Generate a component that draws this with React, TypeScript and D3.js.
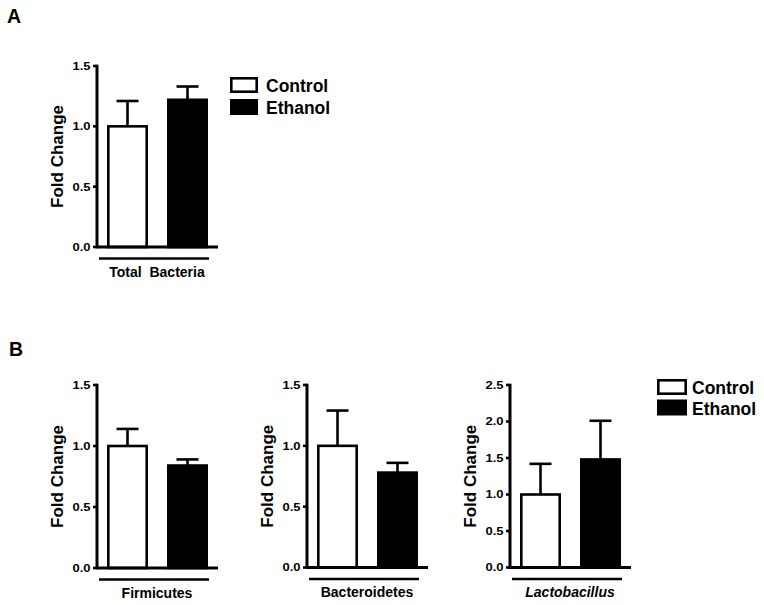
import React from "react";
import * as d3 from "d3";

// ---- data ----
const panelLabels = ["Total  Bacteria", "Firmicutes", "Bacteroidetes", "Lactobacillus"];
const labelItalic = [false, false, false, true];
const groups = ["Control", "Ethanol"];
const controlMean = [1.0, 1.0, 1.0, 1.0];
const controlErr = [0.21, 0.14, 0.29, 0.42];
const ethanolMean = [1.22, 0.84, 0.78, 1.48];
const ethanolErr = [0.11, 0.05, 0.08, 0.53];
const yMaxes = [1.5, 1.5, 1.5, 2.5];
const yTickStep = 0.5;
const yTitle = "Fold Change";
const panelLetters = ["A", "B"];

// ---- layout (not data) ----
const FONT = "'Liberation Sans', Arial, Helvetica, sans-serif";
const axisX = [97, 97, 307, 510];
const axisTop = [66, 385, 385, 385];
const axisBottom = [247, 568, 567.5, 567.5];
const axisLen = 121;
const LW = 2.6;

function Panel({ i }: { i: number }) {
  const x0 = axisX[i];
  const y = d3.scaleLinear().domain([0, yMaxes[i]]).range([axisBottom[i], axisTop[i]]);
  const xb = d3
    .scaleBand<string>()
    .domain(groups)
    .range([x0, x0 + axisLen])
    .paddingInner(0.317)
    .paddingOuter(0.167);
  const ticks = d3.range(0, yMaxes[i] + 1e-9, yTickStep);
  const means = [controlMean[i], ethanolMean[i]];
  const errs = [controlErr[i], ethanolErr[i]];
  const midY = (axisTop[i] + axisBottom[i]) / 2;
  const bw = xb.bandwidth();
  return (
    <g>
      {groups.map((g, k) => {
        const cx = (xb(g) as number) + bw / 2;
        return (
          <g key={"e" + g} stroke="#000" strokeWidth={LW}>
            <line x1={cx} x2={cx} y1={y(means[k])} y2={y(means[k] + errs[k])} />
            <line x1={cx - 11} x2={cx + 11} y1={y(means[k] + errs[k])} y2={y(means[k] + errs[k])} />
          </g>
        );
      })}
      {groups.map((g, k) => (
        <rect
          key={g}
          x={(xb(g) as number) + LW / 2}
          width={bw - LW}
          y={y(means[k])}
          height={y(0) - y(means[k])}
          fill={k === 0 ? "#fff" : "#000"}
          stroke="#000"
          strokeWidth={LW}
        />
      ))}
      <line x1={x0} x2={x0} y1={y(yMaxes[i]) - LW / 2} y2={y(0) + LW / 2} stroke="#000" strokeWidth={LW + 0.4} />
      {ticks.map((t) => (
        <g key={t}>
          <line x1={x0 - 4} x2={x0} y1={y(t)} y2={y(t)} stroke="#000" strokeWidth={LW} />
          <text
            transform={`translate(${x0 - 6.5},${y(t)}) scale(1.18,1)`}
            dy="0.36em"
            textAnchor="end"
            fontFamily={FONT}
            fontWeight="bold"
            fontSize={11}
          >
            {d3.format(".1f")(t)}
          </text>
        </g>
      ))}
      <line x1={x0} x2={x0 + axisLen} y1={y(0)} y2={y(0)} stroke="#000" strokeWidth={LW + 0.4} />
      <line x1={x0 + 2} x2={x0 + 112} y1={y(0) + 11.5} y2={y(0) + 11.5} stroke="#000" strokeWidth={LW} />
      <text
        x={x0 + 60}
        y={y(0) + 29.5}
        textAnchor="middle"
        fontFamily={FONT}
        fontWeight="bold"
        fontStyle={labelItalic[i] ? "italic" : "normal"}
        fontSize={14}
        style={{ whiteSpace: "pre" }}
      >
        {panelLabels[i]}
      </text>
      <text
        transform={`translate(${x0 - 34},${midY}) rotate(-90)`}
        textAnchor="middle"
        fontFamily={FONT}
        fontWeight="bold"
        fontSize={17}
      >
        {yTitle}
      </text>
    </g>
  );
}

function Legend({ bx, by, tx, bw, bh, gap }: { bx: number; by: number; tx: number; bw: number; bh: number; gap: number }) {
  return (
    <g>
      {groups.map((g, k) => (
        <g key={g}>
          <rect
            x={bx + LW / 2}
            y={by + k * gap + LW / 2}
            width={bw - LW}
            height={bh - LW}
            fill={k === 0 ? "#fff" : "#000"}
            stroke="#000"
            strokeWidth={LW}
          />
          <text x={tx} y={by + k * gap + bh - 1} fontFamily={FONT} fontWeight="bold" fontSize={17.5}>
            {g}
          </text>
        </g>
      ))}
    </g>
  );
}

export default function App() {
  return (
    <svg
      width={764}
      height={605}
      style={{ position: "absolute", left: 0, top: 0, background: "#fff" }}
    >
      <rect width={764} height={605} fill="#fff" />
      <text x={7} y={23} fontFamily={FONT} fontWeight="bold" fontSize={19.5}>
        {panelLetters[0]}
      </text>
      <text x={9} y={356} fontFamily={FONT} fontWeight="bold" fontSize={19.5}>
        {panelLetters[1]}
      </text>
      {[0, 1, 2, 3].map((i) => (
        <Panel key={i} i={i} />
      ))}
      <Legend bx={230} by={77} tx={266} bw={28} bh={16} gap={22} />
      <Legend bx={657} by={379} tx={692} bw={30} bh={16} gap={20.5} />
    </svg>
  );
}
